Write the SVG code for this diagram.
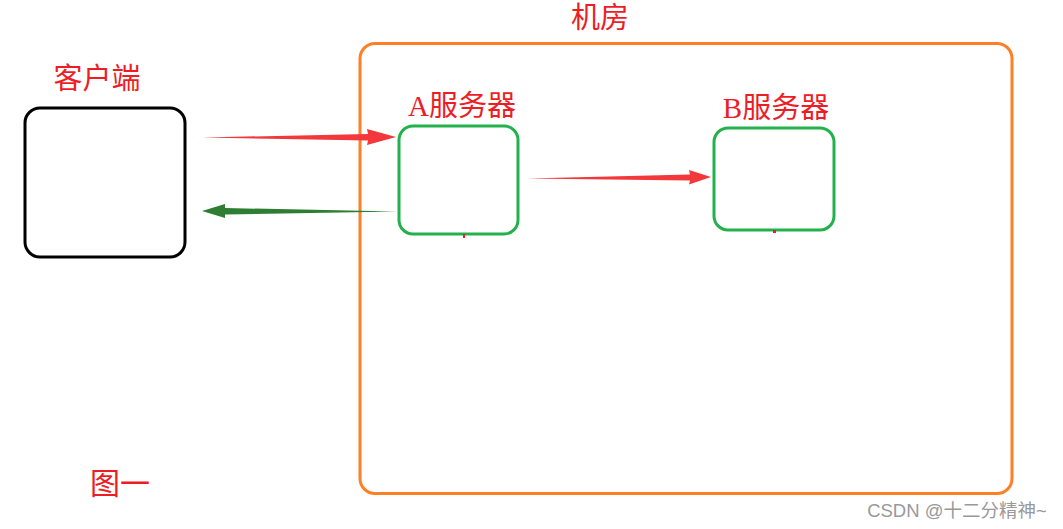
<svg xmlns="http://www.w3.org/2000/svg" width="1063" height="529" viewBox="0 0 1063 529">
<style>
.lbl{font-family:"Liberation Serif","Noto Sans CJK SC",serif;fill:#ee1c25;font-size:29px}
.srv{fill:none;stroke:#22b14c;stroke-width:3}
.tick{fill:#ee1c25}
</style>
<rect width="1063" height="529" fill="#fff"/>
<g id="room">
<rect x="360" y="43.5" width="652" height="450" rx="15" fill="none" stroke="#ff7f27" stroke-width="3"/>
<text class="lbl" x="600" y="28" text-anchor="middle" font-size="30">机房</text>
</g>
<g id="client">
<rect x="25" y="108" width="160" height="149" rx="15" fill="none" stroke="#000" stroke-width="3"/>
<text class="lbl" x="97" y="89" text-anchor="middle">客户端</text>
</g>
<g id="serverA">
<rect class="srv" x="399" y="126" width="119" height="108" rx="14"/>
<rect class="tick" x="463" y="234" width="2" height="4"/>
<text class="lbl" x="462" y="116" text-anchor="middle">A服务器</text>
</g>
<g id="serverB">
<rect class="srv" x="714" y="128" width="120" height="102" rx="14"/>
<rect class="tick" x="773" y="230" width="3" height="3"/>
<text class="lbl" x="776" y="118" text-anchor="middle">B服务器</text>
</g>
<g id="connectors">
<polygon fill="#f2383a" points="202,137.5 368,134 367,129 396,137 367,145 368,140.5"/>
<polygon fill="#2e7d32" points="397,211.5 225,208 225,204 202,211 225,218 225,214.5"/>
<polygon fill="#f2383a" points="527,178.5 690,174.5 689,170 711,177 689,184.5 690,180.5"/>
</g>
<text x="120" y="494" text-anchor="middle" font-family="'Liberation Serif','Noto Sans CJK SC',serif" font-size="30" fill="#ee1c25">图一</text>
<text x="957" y="517" text-anchor="middle" font-family="'Liberation Sans','Noto Sans CJK SC',sans-serif" font-size="18.5" fill="#999">CSDN @十二分精神~</text>
</svg>
